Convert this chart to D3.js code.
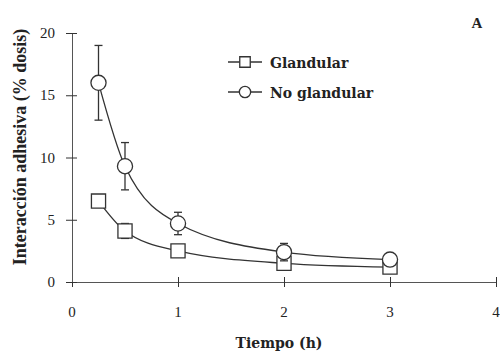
<!DOCTYPE html>
<html>
<head>
<meta charset="utf-8">
<script src="https://cdn.jsdelivr.net/npm/d3@7"></script>
<style>
  body { margin: 0; background: #fff; }
  text { font-family: "Liberation Serif", "DejaVu Serif", serif; fill: #222; }
  .wide { font-family: "DejaVu Serif", "Liberation Serif", serif; }
</style>
</head>
<body>
<div id="chart"></div>
<script>
// hours
const times = [0.25, 0.5, 1, 2, 3];
const glandular = [6.5, 4.1, 2.5, 1.5, 1.2];
const glandularErr = [0, 0.6, 0, 0, 0];
const noGlandular = [16, 9.3, 4.7, 2.4, 1.8];
const noGlandularErr = [3, 1.9, 0.9, 0.7, 0];
const xTicks = [0, 1, 2, 3, 4];
const yTicks = [0, 5, 10, 15, 20];

const width = 500, height = 355;
const margin = {top: 33, right: 4, bottom: 73, left: 72};

const svg = d3.select('#chart').append('svg')
    .attr('width', width)
    .attr('height', height);

const x = d3.scaleLinear().domain([0, 4]).range([margin.left, width - margin.right]);
const y = d3.scaleLinear().domain([0, 20]).range([height - margin.bottom, margin.top]);

const stroke = '#333';

// axes with ticks crossing the line
const xAxis = svg.append('g')
    .attr('transform', 'translate(0,' + y(0) + ')')
    .call(d3.axisBottom(x).tickValues(xTicks).tickSize(5).tickSizeOuter(0).tickFormat(''));
xAxis.selectAll('.tick line').attr('y1', -5).attr('stroke', stroke);
xAxis.select('.domain').attr('stroke', '#555');

const yAxis = svg.append('g')
    .attr('transform', 'translate(' + x(0) + ',0)')
    .call(d3.axisLeft(y).tickValues(yTicks).tickSize(6).tickSizeOuter(0).tickFormat(''));
yAxis.selectAll('.tick line').attr('x1', 5).attr('x2', -6).attr('stroke', stroke);
yAxis.select('.domain').attr('stroke', '#555');

svg.selectAll('.ylab').data(yTicks).enter().append('text')
    .attr('x', 55).attr('y', d => y(d) + 5)
    .attr('text-anchor', 'end')
    .attr('font-size', 15)
    .text(d => d);

svg.selectAll('.xlab').data(xTicks).enter().append('text')
    .attr('x', d => x(d)).attr('y', 317)
    .attr('text-anchor', 'middle')
    .attr('font-size', 15)
    .text(d => d);

svg.append('text')
    .attr('class', 'wide')
    .attr('x', 279).attr('y', 348)
    .attr('text-anchor', 'middle')
    .attr('font-size', 14).attr('font-weight', 'bold')
    .text('Tiempo (h)');

svg.append('text')
    .attr('transform', 'translate(26,147) rotate(-90)')
    .attr('text-anchor', 'middle')
    .attr('font-size', 18).attr('font-weight', 'bold')
    .text('Interacción adhesiva (% dosis)');

svg.append('text')
    .attr('x', 477).attr('y', 28)
    .attr('text-anchor', 'middle')
    .attr('font-size', 15).attr('font-weight', 'bold')
    .text('A');

const line = d3.line()
    .x(d => x(d[0])).y(d => y(d[1]))
    .curve(d3.curveMonotoneX);

function series(vals, errs, shape) {
  const pts = times.map((t, i) => [t, vals[i], errs[i]]);
  svg.append('path')
      .datum(pts)
      .attr('d', line)
      .attr('fill', 'none')
      .attr('stroke', stroke)
      .attr('stroke-width', 1.3);

  const eb = svg.append('g').selectAll('g')
      .data(pts.filter(d => d[2] > 0))
      .enter().append('g').attr('stroke', stroke).attr('stroke-width', 1.3);
  eb.append('line')
      .attr('x1', d => x(d[0])).attr('x2', d => x(d[0]))
      .attr('y1', d => y(d[1] + d[2])).attr('y2', d => y(d[1] - d[2]));
  eb.append('line')
      .attr('x1', d => x(d[0]) - 4).attr('x2', d => x(d[0]) + 4)
      .attr('y1', d => y(d[1] + d[2])).attr('y2', d => y(d[1] + d[2]));
  eb.append('line')
      .attr('x1', d => x(d[0]) - 4).attr('x2', d => x(d[0]) + 4)
      .attr('y1', d => y(d[1] - d[2])).attr('y2', d => y(d[1] - d[2]));

  const sym = d3.symbol().type(shape === 'square' ? d3.symbolSquare : d3.symbolCircle)
      .size(shape === 'square' ? 200 : 180);
  svg.append('g').selectAll('path')
      .data(pts).enter().append('path')
      .attr('transform', d => 'translate(' + x(d[0]) + ',' + y(d[1]) + ')')
      .attr('d', sym)
      .attr('fill', '#fff')
      .attr('stroke', stroke)
      .attr('stroke-width', 1.3);
}

series(glandular, glandularErr, 'square');
series(noGlandular, noGlandularErr, 'circle');

// legend
const legend = [
  {label: 'Glandular', shape: d3.symbolSquare, size: 110},
  {label: 'No glandular', shape: d3.symbolCircle, size: 100}
];
const lg = svg.selectAll('.legend').data(legend).enter().append('g')
    .attr('transform', (d, i) => 'translate(228,' + (62 + i * 30) + ')');
lg.append('line')
    .attr('x1', 0).attr('x2', 34)
    .attr('stroke', stroke).attr('stroke-width', 1.3);
lg.append('path')
    .attr('transform', 'translate(17,0)')
    .attr('d', d => d3.symbol().type(d.shape).size(d.size)())
    .attr('fill', '#fff').attr('stroke', stroke).attr('stroke-width', 1.3);
lg.append('text')
    .attr('class', 'wide')
    .attr('x', 42).attr('y', 6)
    .attr('font-size', 14).attr('font-weight', 'bold')
    .text(d => d.label);
</script>
</body>
</html>
